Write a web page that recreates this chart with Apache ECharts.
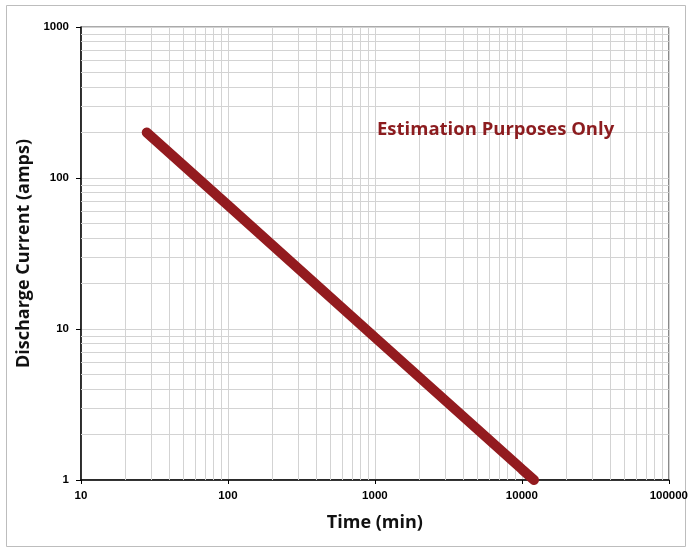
<!DOCTYPE html>
<html><head><meta charset="utf-8">
<script src="https://cdn.jsdelivr.net/npm/echarts@6/dist/echarts.min.js"></script>
<style>html,body{margin:0;padding:0;background:#fff}#c{width:691px;height:552px}</style>
</head><body><div id="c"></div>
<script>
// Data
const timeMin = [28, 100, 1000, 10000, 12100];
const currentAmps = [200, 66, 8.8, 1.18, 1];
const xMinorGrid = [20,30,40,50,60,70,80,90,200,300,400,500,600,700,800,900,2000,3000,4000,5000,6000,7000,8000,9000,20000,30000,40000,50000,60000,70000,80000,90000];
const yMinorGrid = [2,3,4,5,6,7,8,9,20,30,40,50,60,70,80,90,200,300,400,500,600,700,800,900];
const xTitle = 'Time (min)';
const yTitle = 'Discharge Current (amps)';
const note = 'Estimation Purposes Only';

const RED = '#931B1F';
const GRID = '#d3d3d3';
const chart = echarts.init(document.getElementById('c'));
const minorLines = xMinorGrid.map(v => ({xAxis: v})).concat(yMinorGrid.map(v => ({yAxis: v})));
const plain = v => String(Math.round(v));
chart.setOption({
  animation: false,
  backgroundColor: '#fff',
  grid: {left: 81, top: 27, right: 19, bottom: 72, show: true, borderColor: '#555', borderWidth: 1},
  xAxis: {
    type: 'log', min: 10, max: 100000, logBase: 10,
    name: xTitle, nameLocation: 'middle', nameGap: 34,
    nameTextStyle: {fontFamily: 'Open Sans', fontWeight: 'bold', fontSize: 18, color: '#111'},
    axisLine: {show: true, onZero: false, lineStyle: {color: '#000', width: 1.5}},
    axisTick: {show: true, length: 4, lineStyle: {color: '#000'}},
    axisLabel: {fontFamily: 'Liberation Sans', fontWeight: 'bold', fontSize: 11.5, color: '#000', margin: 10, formatter: plain},
    splitLine: {show: true, lineStyle: {color: GRID, width: 1}},
    minorTick: {show: false}, minorSplitLine: {show: false}
  },
  yAxis: {
    type: 'log', min: 1, max: 1000, logBase: 10,
    name: yTitle, nameLocation: 'middle', nameGap: 42, nameRotate: 90,
    nameTextStyle: {fontFamily: 'Open Sans', fontWeight: 'bold', fontSize: 18, color: '#111'},
    axisLine: {show: true, onZero: false, lineStyle: {color: '#000', width: 1.5}},
    axisTick: {show: true, length: 5, lineStyle: {color: '#000'}},
    axisLabel: {fontFamily: 'Liberation Sans', fontWeight: 'bold', fontSize: 11.5, color: '#000', margin: 12, formatter: plain},
    splitLine: {show: true, lineStyle: {color: GRID, width: 1}},
    minorTick: {show: false}, minorSplitLine: {show: false}
  },
  graphic: [
    {type: 'rect', shape: {x: 6.5, y: 5.5, width: 679, height: 541}, style: {fill: null, stroke: '#bdbdbd', lineWidth: 1}, z: -1, silent: true},
    {type: 'text', left: 377, top: 120, style: {text: note, fill: '#8C1C1F', font: 'bold 18.5px "Open Sans"'}, z: 10}
  ],
  series: [
    {
      type: 'line', data: [], z: 1, silent: true, symbol: 'none',
      markLine: {silent: true, symbol: 'none', label: {show: false}, animation: false,
        lineStyle: {color: GRID, width: 1, type: 'solid'}, data: minorLines}
    },
    {
      type: 'line', z: 5, symbol: 'none', clip: true,
      data: timeMin.map((t, i) => [t, currentAmps[i]]),
      lineStyle: {color: RED, width: 10, cap: 'round'}
    }
  ]
});
</script></body></html>
